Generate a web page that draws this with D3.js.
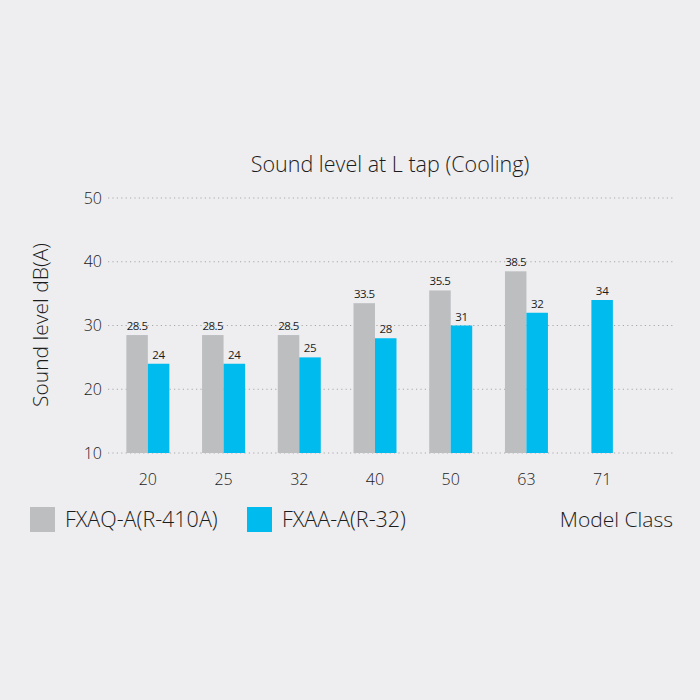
<!DOCTYPE html>
<html>
  <head>
    <meta charset="utf-8">
    <title>Sound level at L tap (Cooling)</title>
    <script src="https://d3js.org/d3.v7.min.js"></script>
    <style>
      html, body { margin: 0; padding: 0; background: #eeeef0; }
      text { font-family: "Open Sans", "Noto Sans", sans-serif; fill: #1c1c1c; }
    </style>
  </head>
  <body>
    <script>

      // data
      var modelClasses = ["20", "25", "32", "40", "50", "63", "71"];
      var seriesNames = ["FXAQ-A(R-410A)", "FXAA-A(R-32)"];
      var fxaqValues = [28.5, 28.5, 28.5, 33.5, 35.5, 38.5, null];
      var fxaqLabels = ["28.5", "28.5", "28.5", "33.5", "35.5", "38.5", ""];
      // bar for class 50 is drawn at 30 in the original, though labelled 31
      var fxaaValues = [24, 24, 25, 28, 30, 32, 34];
      var fxaaLabels = ["24", "24", "25", "28", "31", "32", "34"];
      var yTicks = [10, 20, 30, 40, 50];

      var colors = ["#bdbec0", "#00bbee"];

      var svg = d3.select("body")
                  .append("svg")
                  .attr("width", 700)
                  .attr("height", 700);

      svg.append("rect")
         .attr("width", 700)
         .attr("height", 700)
         .attr("fill", "#eeeef0");

      var x = d3.scaleBand()
                .domain(modelClasses)
                .range([110, 640]);

      var y = d3.scaleLinear()
                .domain([10, 50])
                .range([453, 198]);

      var barW = 21.5;

      // grid lines
      svg.append("g")
         .selectAll("line")
         .data(yTicks)
         .enter()
         .append("line")
         .attr("x1", 108)
         .attr("x2", 673)
         .attr("y1", function(d) { return y(d); })
         .attr("y2", function(d) { return y(d); })
         .attr("stroke", "#a9a9ab")
         .attr("stroke-width", 1.2)
         .attr("stroke-dasharray", "1.2,3.2");

      // y tick labels
      svg.append("g")
         .selectAll("text")
         .data(yTicks)
         .enter()
         .append("text")
         .attr("x", 102)
         .attr("y", function(d) { return y(d) + 5.5; })
         .attr("text-anchor", "end")
         .attr("font-size", 16)
         .attr("font-weight", 300)
         .text(function(d) { return d; });

      // x tick labels
      svg.append("g")
         .selectAll("text")
         .data(modelClasses)
         .enter()
         .append("text")
         .attr("x", function(d) { return x(d) + x.bandwidth() / 2; })
         .attr("y", 485)
         .attr("text-anchor", "middle")
         .attr("font-size", 16)
         .attr("font-weight", 300)
         .text(function(d) { return d; });

      var rows = modelClasses.map(function(c, i) {
        return { cls: c, aq: fxaqValues[i], aqLabel: fxaqLabels[i], aa: fxaaValues[i], aaLabel: fxaaLabels[i] };
      });

      // left edge for each bar, single bar groups get centred
      const barX = (d, which) => {
        var mid = x(d.cls) + x.bandwidth() / 2;
        if (d.aq == null) return mid - barW / 2;
        return which == 0 ? mid - barW : mid;
      };

      var groups = svg.append("g")
                      .selectAll("g")
                      .data(rows)
                      .enter()
                      .append("g");

      groups.filter(function(d) { return d.aq != null; })
            .append("rect")
            .attr("x", function(d) { return barX(d, 0); })
            .attr("y", function(d) { return y(d.aq); })
            .attr("width", barW)
            .attr("height", function(d) { return y(10) - y(d.aq); })
            .attr("fill", colors[0]);

      groups.append("rect")
            .attr("x", function(d) { return barX(d, 1); })
            .attr("y", function(d) { return y(d.aa); })
            .attr("width", barW)
            .attr("height", function(d) { return y(10) - y(d.aa); })
            .attr("fill", colors[1]);

      groups.filter(function(d) { return d.aq != null; })
            .append("text")
            .attr("x", function(d) { return barX(d, 0) + barW / 2; })
            .attr("y", function(d) { return y(d.aq) - 5; })
            .attr("text-anchor", "middle")
            .attr("font-size", 11.5)
            .attr("letter-spacing", -0.5)
            .text(function(d) { return d.aqLabel; });

      groups.append("text")
            .attr("x", function(d) { return barX(d, 1) + barW / 2; })
            .attr("y", function(d) { return y(d.aa) - 5; })
            .attr("text-anchor", "middle")
            .attr("font-size", 11.5)
            .attr("letter-spacing", -0.3)
            .text(function(d) { return d.aaLabel; });

      // titles
      svg.append("text")
         .attr("x", 390)
         .attr("y", 172)
         .attr("text-anchor", "middle")
         .attr("font-size", 21.5)
         .attr("font-weight", 300)
         .text("Sound level at L tap (Cooling)");

      svg.append("text")
         .attr("transform", "translate(48,325) rotate(-90)")
         .attr("text-anchor", "middle")
         .attr("font-size", 21)
         .attr("font-weight", 300)
         .text("Sound level dB(A)");

      // legend
      var legendX = [30, 247];
      var legend = svg.append("g")
                      .selectAll("g")
                      .data(seriesNames)
                      .enter()
                      .append("g")
                      .attr("transform", function(d, i) { return "translate(" + legendX[i] + ",507)"; });

      legend.append("rect")
            .attr("width", 25)
            .attr("height", 25)
            .attr("fill", function(d, i) { return colors[i]; });

      legend.append("text")
            .attr("x", 35)
            .attr("y", 20)
            .attr("font-size", 21.5)
            .attr("font-weight", 300)
            .text(function(d) { return d; });

      svg.append("text")
         .attr("x", 673)
         .attr("y", 527)
         .attr("text-anchor", "end")
         .attr("font-size", 21)
         .attr("font-weight", 300)
         .text("Model Class");

    </script>
  </body>
</html>
